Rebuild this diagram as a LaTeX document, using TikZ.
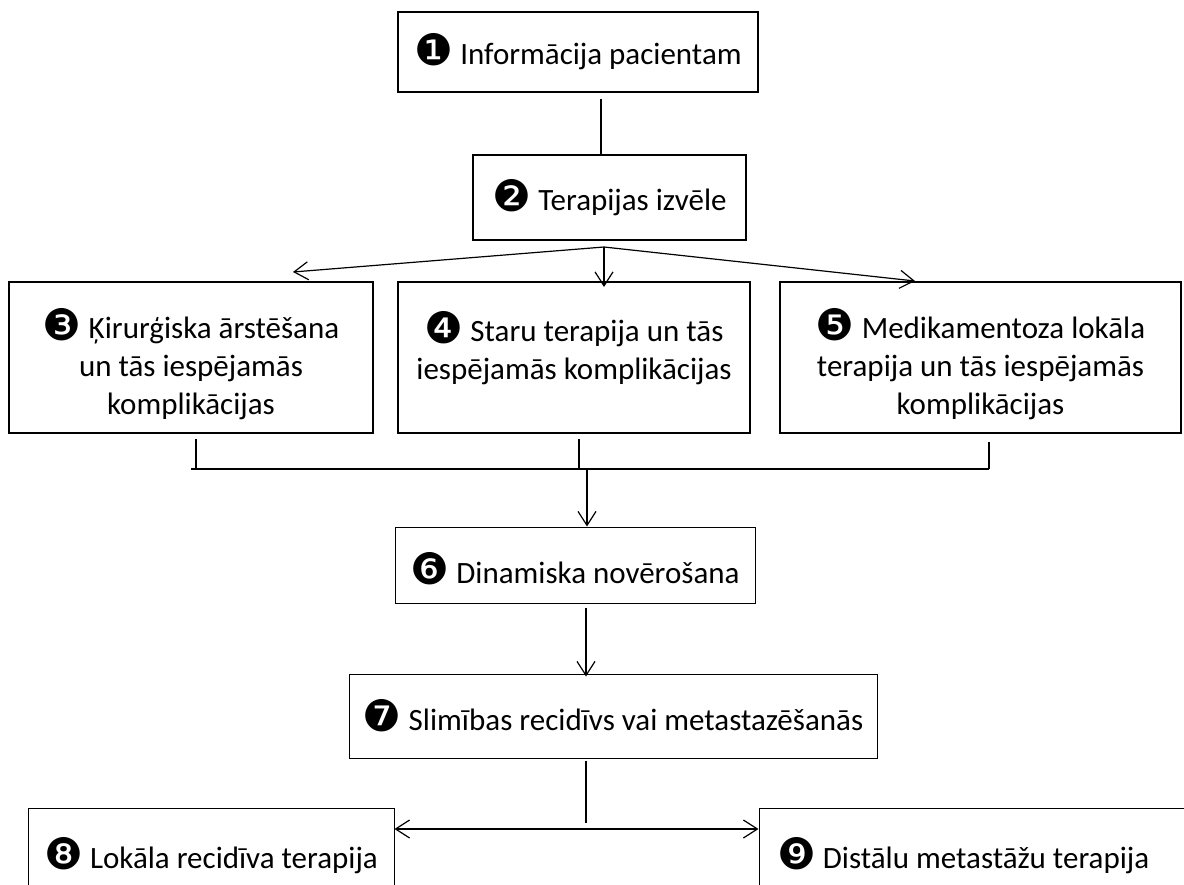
\documentclass[tikz,border=0pt]{standalone}
\usepackage{fontspec}
\setmainfont{Carlito}
\newfontfamily\dingfont[Scale=1.4]{DejaVu Sans}
\usetikzlibrary{arrows.meta}
\newcommand{\nr}[1]{{\dingfont\raisebox{-0.6pt}{#1}}}
\tikzset{
  box/.style={draw, line width=1pt, align=center, inner sep=2pt},
  thinbox/.style={draw, line width=0.5pt, align=center, inner sep=2pt},
  link/.style={line width=0.6pt}
}
\begin{document}
\begin{tikzpicture}[x=0.5pt,y=-0.5pt,font=\fontsize{15.5}{19}\selectfont,
  >={Straight Barb[length=7pt,width=9pt]}]
  \useasboundingbox (0,0) rectangle (1184,884);
  % boxes
  \node[box, minimum width=180pt, minimum height=40pt] (info) at (578,52) {\nr{❶} Informācija pacientam};
  \node[box, minimum width=136.5pt, minimum height=42.5pt] (choice) at (609.5,197.5) {\nr{❷} Terapijas izvēle};
  \node[box, minimum width=182pt, minimum height=75.5pt] (surg) at (191,357.5)
    {\rule{0pt}{22pt}\nr{❸} Ķirurģiska ārstēšana\\un tās iespējamās\\komplikācijas};
  \node[box, minimum width=176pt, minimum height=75.5pt] (rad) at (574,357.5)
    {\nr{❹} Staru terapija un tās\\iespējamās komplikācijas\rule[-12pt]{0pt}{0pt}};
  \node[box, minimum width=200.5pt, minimum height=75.5pt] (med) at (980.5,357.5)
    {\rule{0pt}{22pt}\nr{❺} Medikamentoza lokāla\\terapija un tās iespējamās\\komplikācijas};
  \node[thinbox, minimum width=180pt, minimum height=38pt] (obs) at (575,565)
    {\rule{0pt}{19pt}\nr{❻} Dinamiska novērošana};
  \node[thinbox, minimum width=264pt, minimum height=42pt] (rel) at (613,716) {\nr{❼} Slimības recidīvs vai metastazēšanās};
  \node[thinbox, minimum width=183pt, minimum height=48pt] (loc) at (211,856) {\nr{❽} Lokāla recidīva terapija};
  \node[thinbox, text width=202.5pt, inner xsep=9pt, align=flush left, minimum height=48pt] (dist) at (979.5,856)
    {\nr{❾} Distālu metastāžu terapija};
  % connectors
  \draw[link] ([xshift=11.5pt,yshift=-3pt]info.south) -- ([xshift=-4.25pt]choice.north);
  \coordinate (fan) at ([xshift=-2.75pt,yshift=-3pt]choice.south);
  \draw[link,->] (fan) -- ([xshift=51pt,yshift=4.5pt]surg.north);
  \draw[link,->] (fan) -- ([xshift=15pt,yshift=-3pt]rad.north);
  \draw[link,->] (fan) -- ([xshift=-32.75pt]med.north);
  \coordinate (jl) at (191,469);
  \coordinate (jr) at (989,469);
  \coordinate (jm) at (587,469);
  \foreach \b/\dx/\dy in {surg/2.5/2.5, rad/2.5/2.5, med/4.25/4}
    \draw[link] ([xshift=\dx pt,yshift=-\dy pt]\b.south) -- ([xshift=\dx pt]\b.south |- jl);
  \draw[link] (jl) -- (jr);
  \draw[link,->] (jm) -- ([xshift=6pt]obs.north);
  \draw[link,->] ([xshift=5.5pt,yshift=-2pt]obs.south) -- ([xshift=-13.5pt,yshift=-1.5pt]rel.north);
  \draw[link] ([xshift=-13.5pt,yshift=-1pt]rel.south) -- ([xshift=-13.5pt,yshift=-32pt]rel.south);
  \draw[link,<->] ([yshift=13.5pt]loc.east) -- ([yshift=13.5pt]dist.west);
\end{tikzpicture}
\end{document}
